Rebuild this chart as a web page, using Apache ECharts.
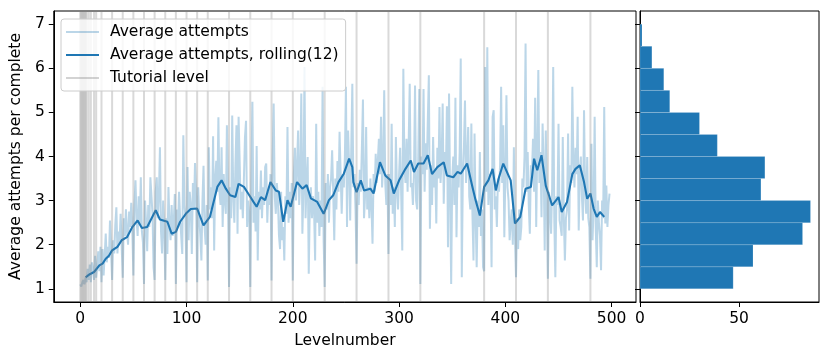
<!DOCTYPE html>
<html>
<head>
<meta charset="utf-8">
<script src="https://cdn.jsdelivr.net/npm/echarts@6/dist/echarts.min.js"></script>
<style>
  html, body { margin: 0; padding: 0; background: #fff; }
  #main { width: 830px; height: 361px; }
</style>
</head>
<body>
<div id="main"></div>
<script>
// average attempts per level (level = index, 0..498)
const attempts = [
  1.10,1.05,1.15,1.20,1.10,1.25,1.15,1.45,1.20,1.55,
  1.15,1.60,1.45,1.20,1.75,1.25,1.50,1.85,1.40,1.95,
  1.15,1.90,1.30,1.75,2.25,1.60,1.95,1.70,2.55,1.85,
  1.20,2.10,1.80,2.45,2.85,1.80,2.30,2.05,2.70,1.95,
  1.25,2.60,2.20,2.80,2.30,2.00,2.75,2.40,2.95,2.35,
  1.30,2.90,3.46,2.60,2.20,3.10,2.45,3.53,2.30,2.05,
  1.11,3.00,2.50,1.85,2.90,2.40,3.53,3.57,2.70,1.49,
  1.20,3.20,3.53,2.60,3.10,4.21,2.30,1.80,3.00,2.40,
  1.20,2.60,1.79,3.31,2.45,2.10,2.90,2.20,2.50,3.15,
  1.11,2.80,2.40,3.20,2.60,2.20,1.79,4.48,2.90,2.65,
  1.15,3.76,2.10,3.20,2.90,1.79,3.40,2.80,3.85,3.10,
  1.15,3.30,2.60,2.20,1.64,3.00,3.79,2.40,2.00,2.90,
  1.19,4.21,2.80,3.30,2.60,4.46,1.87,3.50,3.90,3.20,
  4.89,3.20,2.90,4.21,2.40,3.60,3.00,2.70,4.71,3.10,
  1.04,3.30,2.60,4.93,3.10,2.50,3.80,4.71,2.25,4.90,
  3.90,2.80,3.20,2.60,3.50,4.44,4.81,2.40,3.00,2.70,
  1.04,3.40,5.24,2.50,3.10,2.30,4.24,1.64,3.20,2.80,
  3.68,2.60,3.30,2.90,3.76,3.84,2.50,3.20,2.90,3.60,
  1.19,3.90,5.20,3.10,2.70,3.40,3.00,2.20,1.90,3.20,
  2.10,2.40,1.64,3.10,2.70,4.67,2.50,3.20,2.60,3.40,
  1.19,3.60,4.20,3.00,3.80,4.59,2.90,3.50,5.43,2.25,
  3.20,6.03,2.60,3.40,3.99,1.34,2.90,3.30,2.60,3.10,
  2.80,1.64,4.74,2.50,3.20,2.20,3.00,2.40,5.58,2.10,
  1.04,3.40,2.80,3.60,2.50,3.30,3.50,4.14,3.20,2.10,
  3.50,2.80,3.90,3.20,4.56,4.59,2.70,3.60,3.30,4.00,
  5.58,2.40,4.59,3.80,2.55,4.20,5.65,3.30,3.60,2.80,
  1.57,3.40,2.90,3.70,3.20,4.20,5.29,2.60,3.10,4.67,
  2.80,3.30,2.60,3.50,2.90,2.02,3.60,3.20,4.06,3.40,
  3.90,4.40,3.60,4.90,3.30,3.80,5.50,3.40,2.90,3.60,
  1.79,3.60,2.90,4.74,2.70,3.30,2.40,4.44,3.20,2.80,
  3.60,4.20,3.10,1.87,5.99,3.80,3.40,4.40,3.20,4.30,
  5.65,3.30,3.40,2.90,3.60,5.61,3.00,2.80,3.90,5.53,
  1.11,4.00,3.60,5.53,3.20,4.30,3.70,4.80,5.84,2.36,
  3.80,2.90,4.44,3.30,3.70,2.48,4.20,3.50,5.12,3.40,
  3.90,5.20,2.93,4.10,3.60,5.14,1.94,5.43,3.20,1.11,
  3.50,4.00,2.90,5.33,2.17,3.80,3.30,4.10,6.22,1.26,
  3.60,4.20,5.27,3.40,3.90,4.67,3.10,2.80,4.75,2.70,
  1.64,4.52,2.60,1.49,3.00,2.40,4.10,2.20,2.80,1.49,
  1.40,6.03,3.20,6.48,2.90,3.60,3.30,1.49,4.90,5.05,
  2.80,3.10,2.40,3.50,3.20,3.80,5.58,3.40,4.71,2.17,
  3.60,5.39,3.30,3.00,2.10,2.50,2.80,2.00,4.21,2.20,
  1.26,2.60,1.90,2.80,2.10,2.40,3.50,3.30,4.00,6.56,
  3.20,4.10,2.90,2.25,3.80,3.60,4.40,3.20,5.33,2.40,
  4.20,5.96,3.40,4.10,2.62,4.75,3.80,1.87,4.59,3.00,
  1.23,3.20,2.80,2.25,3.30,6.03,2.60,1.26,3.10,2.90,
  4.74,2.55,2.40,2.20,4.44,2.60,1.64,2.60,2.80,4.52,
  2.32,3.80,3.40,5.58,3.90,3.30,4.20,3.60,4.90,2.32,
  3.60,4.00,3.10,2.55,5.05,3.20,2.70,3.99,2.60,2.40,
  1.23,4.29,2.10,2.80,4.90,2.40,1.49,3.00,2.50,2.20,
  1.42,3.00,2.60,5.12,2.48,3.34,2.40,2.90,3.16
]

// rolling(12) line
const rollingLevels = [5, 9, 13, 18, 21, 24, 27, 30, 35, 39, 44, 49, 54, 58, 63, 71, 75, 82, 86, 90, 94, 100, 104, 110, 116, 122, 129, 133, 137, 141, 146, 149, 154, 158, 163, 166, 170, 174, 179, 184, 187, 191, 195, 198, 204, 209, 213, 217, 223, 229, 234, 238, 243, 248, 253, 256, 257, 260, 264, 267, 273, 276, 282, 287, 292, 295, 300, 306, 311, 314, 318, 323, 327, 331, 336, 342, 345, 351, 355, 358, 364, 369, 372, 376, 380, 384, 388, 391, 394, 398, 405, 409, 414, 419, 424, 427, 430, 434, 438, 441, 444, 450, 453, 458, 463, 466, 470, 474, 477, 480, 483, 486, 489, 493]
const rollingValues = [1.26, 1.33, 1.38, 1.53, 1.57, 1.68, 1.75, 1.87, 1.95, 2.10, 2.17, 2.40, 2.55, 2.38, 2.40, 2.78, 2.57, 2.52, 2.25, 2.29, 2.52, 2.72, 2.81, 2.82, 2.44, 2.63, 3.31, 3.46, 3.27, 3.12, 3.08, 3.38, 3.31, 3.16, 2.97, 2.86, 3.08, 3.01, 3.42, 3.23, 3.20, 2.52, 3.01, 2.86, 3.42, 3.27, 3.35, 3.05, 2.97, 2.70, 3.01, 3.12, 3.42, 3.61, 3.95, 3.76, 3.42, 3.19, 3.46, 3.23, 3.27, 3.16, 3.87, 3.57, 3.46, 3.16, 3.46, 3.72, 3.91, 3.65, 3.84, 3.84, 4.03, 3.60, 3.76, 3.87, 3.57, 3.53, 3.65, 3.61, 3.84, 3.31, 3.01, 2.66, 3.31, 3.46, 3.72, 3.23, 3.53, 3.84, 3.46, 2.48, 2.63, 3.27, 3.31, 3.95, 3.69, 4.03, 3.34, 3.12, 2.89, 3.08, 2.74, 2.97, 3.60, 3.72, 3.80, 3.42, 3.04, 3.16, 2.82, 2.63, 2.74, 2.63]

// tutorial levels (vertical lines)
const tutorialLevels = [0, 1, 2, 3, 4, 5, 6, 8, 10, 13, 15, 20, 30, 40, 50, 60, 70, 80, 90, 100, 110, 120, 140, 160, 180, 200, 230, 260, 290, 320, 380, 410, 440, 480]

// histogram of average attempts
const binEdges = [1, 1.5, 2, 2.5, 3, 3.5, 4, 4.5, 5, 5.5, 6, 6.5, 7]
const binCounts = [47, 57, 82, 86, 61, 63, 39, 30, 15, 12, 6, 1]

const xTicks = [0, 100, 200, 300, 400, 500]
const yTicks = [1, 2, 3, 4, 5, 6, 7]
const histTicks = [0, 50]

const FONT = 'DejaVu Sans'
const FS = 15.5
const BLUE = '#1f77b4'

const axisCommon = {
    axisLine: { show: true, onZero: false, lineStyle: { color: '#000', width: 1 } },
    splitLine: { show: false },
}
const labelStyle = { fontFamily: FONT, fontSize: FS, color: '#000' }

const chart = echarts.init(document.getElementById('main'))

const option = {
    animation: false,
    backgroundColor: '#fff',
    grid: [
        { left: 53, top: 11, width: 583, height: 291, show: true, borderColor: '#000', borderWidth: 1, backgroundColor: 'transparent' },
        { left: 640, top: 11, width: 179, height: 291, show: true, borderColor: '#000', borderWidth: 1, backgroundColor: 'transparent' },
    ],
    xAxis: [
        {
            ...axisCommon,
            gridIndex: 0, type: 'value', min: -24.9, max: 522.9,
            axisTick: { show: true, length: 5, customValues: xTicks, lineStyle: { color: '#000' } },
            axisLabel: { ...labelStyle, margin: 9, customValues: xTicks },
            name: 'Levelnumber', nameLocation: 'middle', nameGap: 31,
            nameTextStyle: labelStyle,
        },
        {
            ...axisCommon,
            gridIndex: 1, type: 'value', min: 0, max: 90.3,
            axisTick: { show: true, length: 5, customValues: histTicks, lineStyle: { color: '#000' } },
            axisLabel: { ...labelStyle, margin: 9, customValues: histTicks },
        },
    ],
    yAxis: [
        {
            ...axisCommon,
            gridIndex: 0, type: 'value', min: 0.7, max: 7.3,
            axisTick: { show: true, length: 5, customValues: yTicks, lineStyle: { color: '#000' } },
            axisLabel: { ...labelStyle, margin: 9, customValues: yTicks },
            name: 'Average attempts per complete', nameLocation: 'middle', nameGap: 29, nameRotate: 90,
            nameTextStyle: labelStyle,
        },
        {
            ...axisCommon,
            gridIndex: 1, type: 'value', min: 0.7, max: 7.3,
            axisTick: { show: true, length: 5, customValues: yTicks, lineStyle: { color: '#000' } },
            axisLabel: { show: false },
        },
    ],
    legend: {
        orient: 'vertical', left: 61, top: 19,
        itemWidth: 33, itemHeight: 2, itemGap: 7,
        padding: [5, 7, 5, 5],
        backgroundColor: 'rgba(255,255,255,0.8)',
        borderColor: '#cccccc', borderWidth: 1, borderRadius: 3,
        selectedMode: false,
        textStyle: { ...labelStyle, padding: [0, 0, 0, 6] },
        data: [
            { name: 'Average attempts', icon: 'rect', itemStyle: { color: 'rgba(31,119,180,0.3)' } },
            { name: 'Average attempts, rolling(12)', icon: 'rect', itemStyle: { color: BLUE } },
            { name: 'Tutorial level', icon: 'rect', itemStyle: { color: 'rgba(128,128,128,0.35)' } },
        ],
        z: 10,
    },
    series: [
        {
            name: 'Average attempts', type: 'line', xAxisIndex: 0, yAxisIndex: 0,
            data: attempts.map((v, i) => [i, v]),
            symbol: 'none', showSymbol: false,
            lineStyle: { color: BLUE, width: 2, opacity: 0.3 },
            itemStyle: { color: 'rgba(31,119,180,0.3)' },
            z: 2,
        },
        {
            name: 'Average attempts, rolling(12)', type: 'line', xAxisIndex: 0, yAxisIndex: 0,
            data: rollingLevels.map((x, i) => [x, rollingValues[i]]),
            symbol: 'none', showSymbol: false,
            lineStyle: { color: BLUE, width: 2.1 },
            itemStyle: { color: BLUE },
            z: 3,
        },
        {
            name: 'Tutorial level', type: 'custom', xAxisIndex: 0, yAxisIndex: 0,
            data: tutorialLevels.map(x => [x]),
            encode: { x: 0 },
            clip: true,
            renderItem: function (params, api) {
                const x = api.value(0)
                const top = api.coord([x, 7.3])
                const bot = api.coord([x, 0.7])
                return {
                    type: 'line',
                    shape: { x1: top[0], y1: top[1], x2: bot[0], y2: bot[1] },
                    style: { stroke: 'rgba(128,128,128,0.3)', lineWidth: 2 },
                }
            },
            z: 4,
        },
        {
            name: 'hist', type: 'custom', xAxisIndex: 1, yAxisIndex: 1,
            data: binCounts.map((c, i) => [binEdges[i], binEdges[i + 1], c]),
            encode: { x: 2, y: [0, 1] },
            renderItem: function (params, api) {
                const p0 = api.coord([0, api.value(1)])
                const p1 = api.coord([api.value(2), api.value(0)])
                return {
                    type: 'rect',
                    shape: { x: p0[0], y: p0[1], width: p1[0] - p0[0], height: p1[1] - p0[1] },
                    style: { fill: BLUE, stroke: 'rgba(255,255,255,0.25)', lineWidth: 0.6 },
                }
            },
            z: 2,
        },
    ],
}

chart.setOption(option)
</script>
</body>
</html>
